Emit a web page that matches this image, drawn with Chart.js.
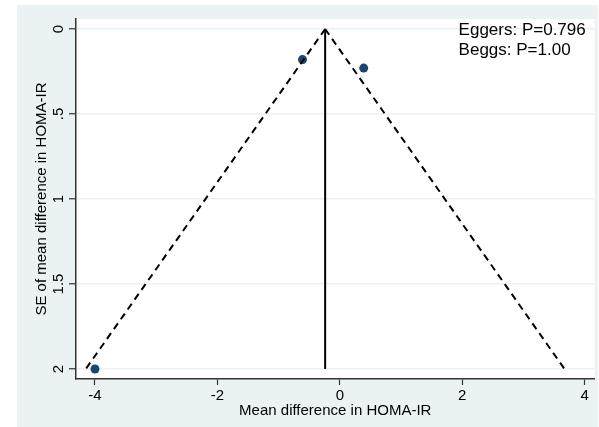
<!DOCTYPE html>
<html>
<head>
<meta charset="utf-8">
<script src="https://cdn.jsdelivr.net/npm/chart.js@4.4.0/dist/chart.umd.min.js"></script>
<style>
  html, body { margin: 0; padding: 0; background: #fff; }
  #wrap { width: 599px; height: 427px; }
</style>
</head>
<body>
<div id="wrap"><canvas id="myChart" width="599" height="427"></canvas></div>
<script>
//Study estimates (mean difference, SE)
const studyMD = [-0.61, 0.39, -4.0];
const studySE = [0.18, 0.23, 2.0];
//Pooled estimate and funnel limits
const pooledMD = -0.24;
const funnelSE = [0, 2];
const leftLimit = [-0.24, -4.15];
const rightLimit = [-0.24, 3.67];
//Axis ticks
const xTicks = [-4, -2, 0, 2, 4];
const yTicks = [0, 0.5, 1, 1.5, 2];
const yTickLabels = ["0", ".5", "1", "1.5", "2"];
const notes = ["Eggers: P=0.796", "Beggs: P=1.00"];

const bgColor = "#eaf2f3";
const ctx = document.getElementById("myChart");

//Draws the grey graph region and the white plot region
const backdrop = {
  id: "backdrop",
  beforeDraw(chart) {
    const c = chart.ctx;
    const a = chart.chartArea;
    c.save();
    c.fillStyle = "#fff";
    c.fillRect(0, 0, chart.width, chart.height);
    c.fillStyle = bgColor;
    c.fillRect(17, 5, chart.width - 18, chart.height - 5);
    c.fillStyle = "#fff";
    c.fillRect(a.left, a.top, a.right - a.left, a.bottom - a.top);
    c.restore();
  }
};

//Writes the test p-values in the top right corner
const noteText = {
  id: "noteText",
  afterDatasetsDraw(chart) {
    const c = chart.ctx;
    const xs = chart.scales.x, ys = chart.scales.y;
    c.save();
    c.font = "17px 'Liberation Sans', Arial, sans-serif";
    c.fillStyle = "#000";
    c.textAlign = "left";
    c.textBaseline = "alphabetic";
    const x = xs.getPixelForValue(1.94);
    c.fillText(notes[0], x, ys.getPixelForValue(0.038));
    c.fillText(notes[1], x, ys.getPixelForValue(0.150));
    c.restore();
  }
};

const tickFont = { family: "'Liberation Sans', Arial, sans-serif", size: 15 };
const titleFont = { family: "'Liberation Sans', Arial, sans-serif", size: 15 };

new Chart(ctx, {
  type: "scatter",
  data: {
    datasets: [
      {
        label: "left limit",
        data: funnelSE.map((s, i) => ({ x: leftLimit[i], y: s })),
        showLine: true,
        borderColor: "#000",
        borderWidth: 2,
        borderDash: [7, 5],
        pointRadius: 0
      },
      {
        label: "right limit",
        data: funnelSE.map((s, i) => ({ x: rightLimit[i], y: s })),
        showLine: true,
        borderColor: "#000",
        borderWidth: 2,
        borderDash: [7, 5],
        pointRadius: 0
      },
      {
        label: "pooled",
        data: funnelSE.map(s => ({ x: pooledMD, y: s })),
        showLine: true,
        borderColor: "#000",
        borderWidth: 2,
        pointRadius: 0
      },
      {
        label: "studies",
        data: studyMD.map((m, i) => ({ x: m, y: studySE[i] })),
        backgroundColor: "#1a476f",
        borderColor: "#1a476f",
        pointRadius: 4.5,
        pointBorderWidth: 0
      }
    ]
  },
  options: {
    responsive: false,
    animation: false,
    layout: { padding: { left: 0, top: 19, right: 1, bottom: 0 } },
    plugins: {
      legend: { display: false },
      tooltip: { enabled: false }
    },
    scales: {
      x: {
        type: "linear",
        min: -4.31,
        max: 4.16,
        afterBuildTicks: scale => { scale.ticks = xTicks.map(v => ({ value: v })); },
        afterFit: scale => { scale.height = 48; },
        grid: { drawOnChartArea: false, drawTicks: true, tickLength: 6, tickColor: "#333", tickWidth: 1.2 },
        border: { display: true, color: "#333", width: 1.5 },
        ticks: { color: "#000", font: tickFont, padding: 2, maxRotation: 0 },
        title: { display: true, text: "Mean difference in HOMA-IR", color: "#000", font: titleFont, padding: { top: 0, bottom: 7 } }
      },
      y: {
        type: "linear",
        reverse: true,
        min: -0.059,
        max: 2.059,
        afterBuildTicks: scale => { scale.ticks = yTicks.map(v => ({ value: v })); },
        afterFit: scale => { scale.width = 76; },
        grid: { color: bgColor, lineWidth: 1.5, drawTicks: true, tickLength: 7, tickColor: "#333", tickWidth: 1.2 },
        border: { display: true, color: "#333", width: 1.5 },
        ticks: {
          color: "#000",
          font: tickFont,
          padding: 0,
          minRotation: 90,
          maxRotation: 90,
          crossAlign: "center",
          callback: (v, i) => yTickLabels[i]
        },
        title: { display: true, text: "SE of mean difference in HOMA-IR", color: "#000", font: titleFont, padding: { top: 33, bottom: 0 } }
      }
    }
  },
  plugins: [backdrop, noteText]
});
</script>
</body>
</html>
